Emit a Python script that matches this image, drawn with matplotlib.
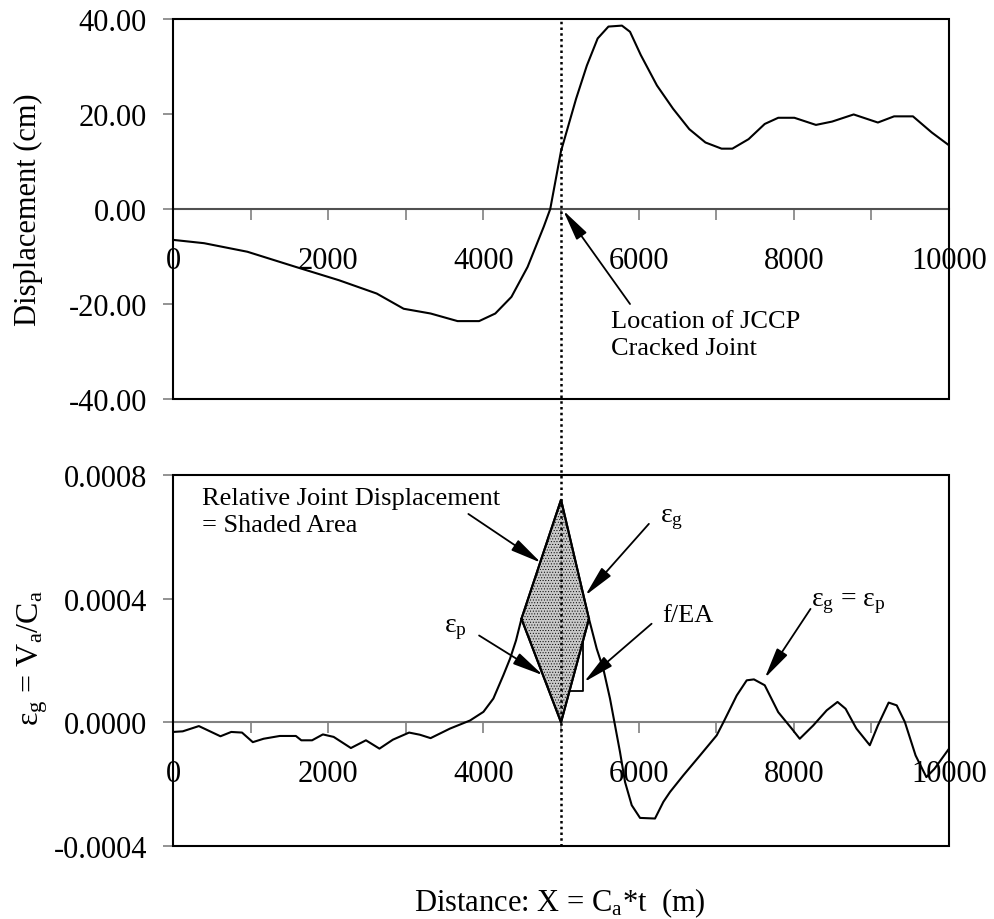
import numpy as np
import matplotlib
matplotlib.use("Agg")
import matplotlib.pyplot as plt
from matplotlib.lines import Line2D
from matplotlib.patches import Polygon, Rectangle
from matplotlib.transforms import blended_transform_factory

# ---------------- data ----------------
# ground displacement along the pipeline (cm)
disp_x = [0, 400, 958, 1583, 2139, 2625, 2972, 3319, 3667, 3944, 4153, 4361,
          4569, 4778, 4861, 5000, 5194, 5333, 5472, 5611, 5785, 5889, 6028,
          6236, 6444, 6653, 6861, 7069, 7208, 7417, 7625, 7799, 8007, 8285,
          8493, 8771, 9083, 9292, 9535, 9778, 10000]
disp_y = [-6.5, -7.2, -9.0, -12.2, -15.0, -17.8, -21.0, -22.0, -23.6, -23.6,
          -22.0, -18.5, -12.2, -3.7, 0.0, 12.2, 23.2, 30.2, 35.9, 38.4, 38.6,
          37.3, 32.4, 26.0, 21.1, 16.8, 14.0, 12.7, 12.7, 14.7, 17.9, 19.2,
          19.2, 17.7, 18.4, 19.9, 18.2, 19.5, 19.5, 16.1, 13.4]

# ground strain eps_g = Va/Ca (x 1e-4)
strain_x = [0, 125, 333, 611, 750, 889, 1028, 1167, 1375, 1583, 1653, 1792,
            1931, 2070, 2292, 2486, 2660, 2833, 3042, 3181, 3319, 3570, 3827,
            4000, 4128, 4256, 4343, 4420, 4490, 5000, 5360, 5460, 5545, 5631,
            5696, 5760, 5825, 5911, 6018, 6211, 6319, 6405, 6577, 6791, 7006,
            7092, 7264, 7393, 7486, 7625, 7799, 7972, 8076, 8250, 8424, 8563,
            8667, 8806, 8979, 9083, 9222, 9326, 9431, 9569, 9708, 9813, 10000]
strain_y_e4 = [-0.31, -0.29, -0.12, -0.45, -0.31, -0.33, -0.64, -0.53, -0.44,
               -0.44, -0.58, -0.58, -0.39, -0.47, -0.83, -0.58, -0.85, -0.56,
               -0.33, -0.40, -0.51, -0.20, 0.06, 0.34, 0.77, 1.52, 2.06, 2.65,
               3.35, 7.20, 3.35, 2.38, 1.73, 0.77, -0.10, -0.96, -1.93, -2.68,
               -3.09, -3.11, -2.57, -2.25, -1.71, -1.07, -0.42, 0.00, 0.87,
               1.36, 1.39, 1.20, 0.33, -0.20, -0.53, -0.10, 0.39, 0.66, 0.44,
               -0.20, -0.74, -0.10, 0.64, 0.55, 0.01, -1.07, -1.77, -1.50,
               -0.85]
strain_y = [v * 1e-4 for v in strain_y_e4]

# pipe strain eps_p near the cracked joint
pipe_x = [4490, 5000, 5360]
pipe_y = [3.35e-4, 0.0, 3.35e-4]

joint_x = 5000
fea_level = 1.03e-4      # f/EA level
fea_x_end = 5280

disp_ticks = [40, 20, 0, -20, -40]
strain_ticks = [0.0008, 0.0004, 0.0, -0.0004]
x_ticks = list(range(0, 10001, 1000))

# ---------------- style ----------------
plt.rcParams["font.family"] = ["Liberation Serif", "DejaVu Serif"]
plt.rcParams["mathtext.fontset"] = "custom"
plt.rcParams["mathtext.rm"] = "Liberation Serif"
plt.rcParams["mathtext.it"] = "Liberation Serif:italic"
plt.rcParams["axes.unicode_minus"] = False
plt.rcParams["hatch.color"] = "#9c9c9c"
plt.rcParams["hatch.linewidth"] = 0.4

GRAY = "#808080"
TICK_FS = 22
NOTE_FS = 19

fig = plt.figure(figsize=(9.95, 9.2), dpi=100)
ax1 = fig.add_axes([0.1739, 0.5652, 0.7799, 0.4131])
ax2 = fig.add_axes([0.1739, 0.0793, 0.7799, 0.4033])


def style_axes(ax, ylim, yticks, yfmt, zero_color):
    ax.set_xlim(0, 10000)
    ax.set_ylim(*ylim)
    for s in ["top", "right", "left"]:
        ax.spines[s].set_visible(False)
    ax.spines["bottom"].set_position(("data", 0))
    ax.spines["bottom"].set_color(zero_color)
    ax.spines["bottom"].set_linewidth(1.5)
    ax.set_xticks(x_ticks)
    ax.set_xticklabels([str(t) if t % 2000 == 0 else "" for t in x_ticks])
    ax.set_yticks(yticks)
    ax.set_yticklabels([yfmt.format(t) for t in yticks])
    ax.tick_params(axis="x", direction="out", length=7.7, width=1.2,
                   color=GRAY, pad=19, labelsize=TICK_FS)
    ax.tick_params(axis="y", direction="out", length=7.2, width=1.2,
                   color=GRAY, pad=11.5, labelsize=TICK_FS)
    ax.add_patch(Rectangle((0, 0), 1, 1, transform=ax.transAxes, fill=False,
                           ec="black", lw=1.5, clip_on=False, zorder=6))


style_axes(ax1, (-40, 40), disp_ticks, "{:.2f}", "#505050")
style_axes(ax2, (-0.0004, 0.0008), strain_ticks, "{:.4f}", GRAY)

# displacement curve
ax1.plot(disp_x, disp_y, color="black", lw=1.5, zorder=4)

# strain curve
ax2.plot(strain_x, strain_y, color="black", lw=1.5, zorder=4)

# shaded area between eps_g and eps_p around the joint
sx = np.array(strain_x)
sy = np.array(strain_y)
sel = (sx >= pipe_x[0]) & (sx <= pipe_x[-1])
poly = list(zip(sx[sel], sy[sel])) + [(pipe_x[1], pipe_y[1])]
ax2.add_patch(Polygon(poly, closed=True, facecolor="#c9c9c9", hatch="......",
                      edgecolor="black", lw=1.5, zorder=3))
ax2.plot(pipe_x, pipe_y, color="black", lw=1.5, zorder=4)

# f/EA step on the pipe-strain line
right_x = pipe_x[1:]
right_y = pipe_y[1:]
x_on_line = np.interp(fea_level, right_y, right_x)
y_on_line = np.interp(fea_x_end, right_x, right_y)
ax2.plot([x_on_line, fea_x_end, fea_x_end], [fea_level, fea_level, y_on_line],
         color="black", lw=1.3, zorder=4)

# dotted line at the joint through both panels
trans = blended_transform_factory(ax1.transData, fig.transFigure)
fig.add_artist(Line2D([joint_x, joint_x], [0.0793, 0.9783], transform=trans,
                      color="black", lw=1.8, linestyle=(0, (1, 1.3)),
                      zorder=7))

arrow = dict(arrowstyle="-|>,head_length=0.95,head_width=0.19",
             mutation_scale=20, color="black", lw=1.3,
             shrinkA=0, shrinkB=0)

# upper annotation
ax1.annotate("", xy=(5028, -0.3), xytext=(5889, -20.0), arrowprops=arrow,
             zorder=8)
ax1.text(5646, -21.3, "Location of JCCP\nCracked Joint", fontsize=NOTE_FS,
         ha="left", va="top", linespacing=1.3)

# lower annotations
ax2.text(368, 7.62e-4, "Relative Joint Displacement\n= Shaded Area",
         fontsize=NOTE_FS, ha="left", va="top", linespacing=1.3)
ax2.annotate("", xy=(4743, 5.16e-4), xytext=(3806, 6.74e-4),
             arrowprops=arrow, zorder=8)

ax2.text(6271, 6.58e-4, r"$\mathrm{\varepsilon}_{\mathrm{g}}$",
         fontsize=NOTE_FS + 1, ha="left", va="center")
ax2.annotate("", xy=(5312, 4.10e-4), xytext=(6132, 6.42e-4),
             arrowprops=arrow, zorder=8)

ax2.text(3493, 3.03e-4, r"$\mathrm{\varepsilon}_{\mathrm{p}}$",
         fontsize=NOTE_FS + 1, ha="left", va="center")
ax2.annotate("", xy=(4770, 1.52e-4), xytext=(3944, 2.81e-4),
             arrowprops=arrow, zorder=8)

ax2.text(6306, 3.46e-4, "f/EA", fontsize=NOTE_FS, ha="left", va="center")
ax2.annotate("", xy=(5295, 1.30e-4), xytext=(6167, 3.19e-4),
             arrowprops=arrow, zorder=8)

ax2.text(8215, 3.89e-4,
         r"$\mathrm{\varepsilon}_{\mathrm{g}}$ = $\mathrm{\varepsilon}_{\mathrm{p}}$",
         fontsize=NOTE_FS + 1, ha="left", va="center")
ax2.annotate("", xy=(7625, 1.43e-4), xytext=(8215, 3.67e-4),
             arrowprops=arrow, zorder=8)

# axis titles
fig.text(28 / 995, 1 - 210 / 920, "Displacement (cm)", rotation=90,
         ha="center", va="center", fontsize=22)
fig.text(33 / 995, 1 - 658 / 920,
         r"$\mathrm{\varepsilon}_{\mathrm{g}}$ = V$_{\mathrm{a}}$/C$_{\mathrm{a}}$",
         rotation=90, ha="center", va="center", fontsize=23)
fig.text(560 / 995, 1 - 911 / 920, r"Distance: X = C$_{\mathrm{a}}$*t  (m)",
         ha="center", va="baseline", fontsize=22)

fig.savefig("out.png", dpi=100)
